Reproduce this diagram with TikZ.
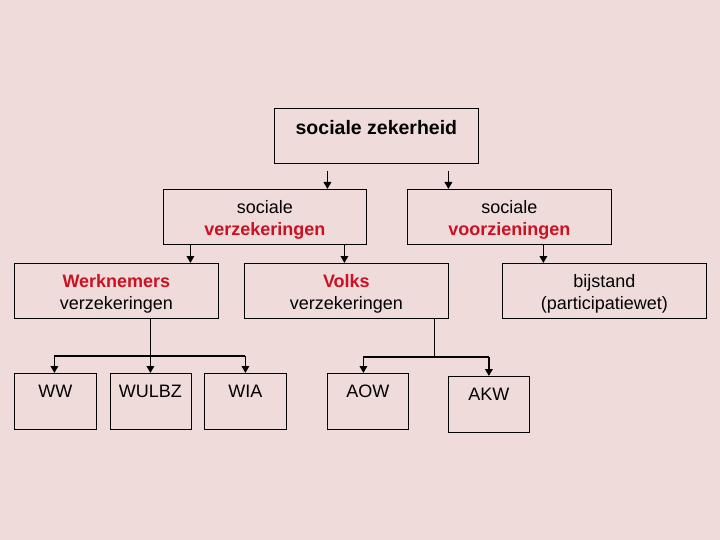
\documentclass[tikz,border=0pt]{standalone}
\usepackage{fontspec}
\setmainfont{Liberation Sans}
\usetikzlibrary{arrows.meta}
\definecolor{bg}{RGB}{240,219,219}
\definecolor{redtxt}{RGB}{204,17,34}
\newcommand{\tstrut}{\rule{0pt}{19pt}}
\begin{document}
\begin{tikzpicture}[x=1pt,y=-1pt,
  box/.style={draw=black, line width=0.8pt, inner sep=0pt, anchor=north west,
    font=\fontsize{18}{22}\selectfont, align=center},
  twol/.style={box, minimum width=204pt, minimum height=55pt},
  onel/.style={box, minimum width=82pt, text height=24pt, text depth=32pt},
  arr/.style={line width=1.8pt, -{Triangle[length=7pt,width=7.5pt]}},
  barline/.style={line width=1.4pt},
  thinline/.style={line width=0.8pt}
]
\fill[bg] (0,0) rectangle (720,540);
\useasboundingbox (0,0) rectangle (720,540);

% top
\node[box, minimum width=204pt, text height=26pt, text depth=29pt,
  font=\fontsize{19.5}{23}\selectfont\bfseries] (sz) at (274,108) {sociale zekerheid};

% second row
\node[twol, minimum width=203pt] (sv) at (163,189) {\tstrut sociale\\\textcolor{redtxt}{\bfseries verzekeringen}};
\node[twol] (svo) at (407,189) {\tstrut sociale\\\textcolor{redtxt}{\bfseries voorzieningen}};

% third row
\node[twol] (wv) at (14,263) {\tstrut\textcolor{redtxt}{\bfseries Werknemers}\\verzekeringen};
\node[twol] (vv) at (244,263) {\tstrut\textcolor{redtxt}{\bfseries Volks}\\verzekeringen};
\node[twol] (bij) at (502,263) {\tstrut bijstand\\(participatiewet)};

% bottom row
\node[onel] (ww) at (14,373) {WW};
\node[onel, minimum width=81pt] (wulbz) at (109.5,373) {WULBZ};
\node[onel] (wia) at (204,373) {WIA};
\node[onel, minimum width=81pt] (aow) at (327,373) {AOW};
\node[onel, minimum width=81pt] (akw) at (448,376) {AKW};

% arrows from top
\draw[arr, shorten <=7pt] ([xshift=-49pt]sz.south) -- ([xshift=-49pt]sz.south |- sv.north);
\draw[arr, shorten <=7pt] ([xshift=72pt]sz.south) -- ([xshift=72pt]sz.south |- svo.north);

% arrows from second row
\draw[arr] ([xshift=-74.5pt]sv.south) -- ([xshift=-74.5pt]sv.south |- wv.north);
\draw[arr] ([xshift=79.5pt]sv.south) -- ([xshift=79.5pt]sv.south |- vv.north);
\draw[arr] ([xshift=34pt]svo.south) -- ([xshift=34pt]svo.south |- bij.north);

% werknemers branch
\coordinate (wbar) at (0,356);
\draw[arr] ([xshift=34pt]wv.south) -- (wulbz.north);
\draw[barline] ([xshift=-1pt]ww.north |- wbar) -- (wia.north |- wbar);
\draw[arr] ([xshift=-1pt]ww.north |- wbar) -- ([xshift=-1pt]ww.north);
\draw[arr] (wia.north |- wbar) -- (wia.north);

% volks branch
\coordinate (vbar) at (0,357);
\draw[thinline] ([xshift=88pt]vv.south) -- ([xshift=88pt]vv.south |- vbar);
\draw[barline] ([xshift=-4.5pt]aow.north |- vbar) -- (akw.north |- vbar);
\draw[arr] ([xshift=-4.5pt]aow.north |- vbar) -- ([xshift=-4.5pt]aow.north);
\draw[arr] (akw.north |- vbar) -- (akw.north);
\end{tikzpicture}
\end{document}
